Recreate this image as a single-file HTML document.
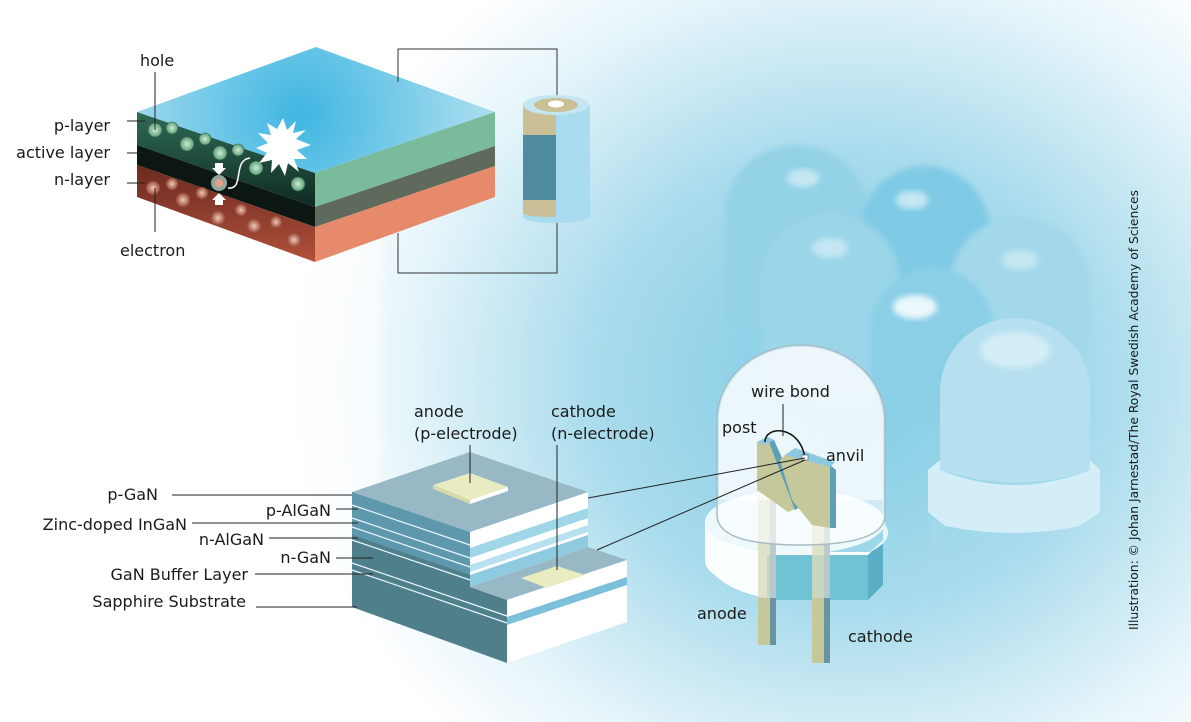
<!DOCTYPE html>
<html><head><meta charset="utf-8"><style>
html,body{margin:0;padding:0;background:#fff}
svg{display:block}
text{font-family:"DejaVu Sans","Liberation Sans",sans-serif;font-size:16px;fill:#1a1a1a}
</style></head><body>
<svg width="1191" height="722" viewBox="0 0 1191 722" xmlns="http://www.w3.org/2000/svg">
<defs>
<radialGradient id="bg" cx="850" cy="380" r="560" gradientUnits="userSpaceOnUse" gradientTransform="translate(850 380) scale(1 0.9) translate(-850 -380)">
<stop offset="0" stop-color="#7fcbe4"/><stop offset="0.45" stop-color="#a8dbec"/><stop offset="0.8" stop-color="#e6f5fa"/><stop offset="1" stop-color="#ffffff"/></radialGradient>
<radialGradient id="topf" cx="300" cy="115" r="180" gradientUnits="userSpaceOnUse"><stop offset="0" stop-color="#3fb6e2"/><stop offset="1" stop-color="#a6dcee"/></radialGradient>
<linearGradient id="pl" x1="0" y1="0" x2="0" y2="1"><stop offset="0" stop-color="#2f6b56"/><stop offset="1" stop-color="#0f2a22"/></linearGradient>
<linearGradient id="nl" x1="0" y1="0" x2="0" y2="1"><stop offset="0" stop-color="#6b2a20"/><stop offset="1" stop-color="#b0503a"/></linearGradient>
<radialGradient id="hole"><stop offset="0" stop-color="#cdeecf"/><stop offset="1" stop-color="#5f9f7c"/></radialGradient>
<radialGradient id="el"><stop offset="0" stop-color="#f0c8b8"/><stop offset="1" stop-color="#9a4a3a"/></radialGradient>
<filter id="bl" x="-20%" y="-20%" width="140%" height="140%"><feGaussianBlur stdDeviation="6"/></filter>
<filter id="bl3" x="-20%" y="-20%" width="140%" height="140%"><feGaussianBlur stdDeviation="3"/></filter>
<filter id="bl2"><feGaussianBlur stdDeviation="3"/></filter>
</defs>
<rect width="1191" height="722" fill="url(#bg)"/>
<rect x="0" y="0" width="380" height="722" fill="#fff" opacity="0.6" filter="url(#bl)"/>

<g filter="url(#bl3)">
<path d="M725 330 V215 A72 70 0 0 1 869 215 V330Z" fill="#94d2e8"/>
<path d="M860 340 V232 A65 66 0 0 1 990 232 V340Z" fill="#7fcae5"/>
<path d="M950 350 V285 A70 68 0 0 1 1090 285 V350Z" fill="#a3d8eb"/>
<path d="M760 400 V283 A70 70 0 0 1 900 283 V400Z" fill="#9ad5ea"/>
<path d="M870 420 V330 A62 62 0 0 1 994 330 V420Z" fill="#8bcfe7"/>
</g>
<ellipse cx="803" cy="178" rx="16" ry="9" fill="#c5e7f3" filter="url(#bl2)"/>
<ellipse cx="912" cy="200" rx="16" ry="9" fill="#c5e7f3" filter="url(#bl2)"/>
<ellipse cx="830" cy="248" rx="18" ry="10" fill="#c5e7f3" filter="url(#bl2)"/>
<ellipse cx="1020" cy="260" rx="18" ry="10" fill="#c5e7f3" filter="url(#bl2)"/>
<ellipse cx="915" cy="307" rx="22" ry="12" fill="#eaf7fb" filter="url(#bl2)"/>
<rect x="930" y="520" width="14" height="62" fill="#a5d8eb" opacity="0.8"/>
<path d="M928 470 L940 460 V470 Q1015 500 1090 470 V460 L1100 470 V512 L1080 526 Q1015 540 945 526 L928 512Z" fill="#d4eef7"/>
<path d="M940 470 V392 A75 74 0 0 1 1090 392 V470 Q1015 495 940 470Z" fill="#b6e0ef"/>
<ellipse cx="1015" cy="350" rx="35" ry="18" fill="#d4eef7" filter="url(#bl2)"/>

<polygon points="137,112 316,47 495,112 315,173" fill="url(#topf)"/>
<polygon points="137,112 315,173 315,207 137,145" fill="url(#pl)"/>
<polygon points="137,145 315,207 315,227 137,165" fill="#0c1612"/>
<polygon points="137,165 315,227 315,262 137,197" fill="url(#nl)"/>
<polygon points="315,173 495,112 495,146 315,207" fill="#79bb9b"/>
<polygon points="315,207 495,146 495,166 315,227" fill="#5f6a5c"/>
<polygon points="315,227 495,166 495,197 315,262" fill="#e78a6c"/>
<g fill="url(#hole)" stroke="#2d5a44" stroke-width="0.6">
<circle cx="155" cy="130" r="7"/><circle cx="172" cy="128" r="6"/><circle cx="187" cy="144" r="7"/><circle cx="205" cy="139" r="6"/><circle cx="220" cy="153" r="7"/><circle cx="238" cy="150" r="6"/><circle cx="256" cy="168" r="7"/><circle cx="298" cy="184" r="7"/>
</g>
<g fill="url(#el)">
<circle cx="153" cy="188" r="7"/><circle cx="172" cy="184" r="6"/><circle cx="183" cy="200" r="7"/><circle cx="202" cy="193" r="6"/><circle cx="218" cy="218" r="7"/><circle cx="241" cy="210" r="6"/><circle cx="254" cy="226" r="7"/><circle cx="276" cy="222" r="6"/><circle cx="294" cy="240" r="7"/>
</g>
<circle cx="219" cy="183" r="8" fill="#8fa89a"/><circle cx="219" cy="183" r="4" fill="#e9a08a"/>
<path d="M215 163 h8 v5 h3 l-7 7 -7 -7 h3z" fill="#fff"/>
<path d="M215 205 h8 v-5 h3 l-7 -7 -7 7 h3z" fill="#fff"/>
<path d="M228 188 C245 190 232 160 250 158" stroke="#fff" stroke-width="1.5" fill="none"/>
<polygon points="283,118 287,130 296,121 293,133 306,130 296,139 311,145 297,150 307,159 294,159 299,172 288,163 285,176 279,164 271,173 272,160 259,163 267,153 256,148 268,143 258,133 271,135 267,123 277,129" fill="#fff"/>
<text x="140" y="66">hole</text>
<line x1="155" y1="72" x2="155" y2="130" stroke="#222"/>
<text x="110" y="131" text-anchor="end">p-layer</text>
<text x="110" y="158" text-anchor="end">active layer</text>
<text x="110" y="185" text-anchor="end">n-layer</text>
<line x1="127" y1="121" x2="145" y2="121" stroke="#222"/>
<line x1="127" y1="153" x2="145" y2="153" stroke="#222"/>
<line x1="127" y1="183" x2="145" y2="183" stroke="#222"/>
<line x1="155" y1="188" x2="155" y2="232" stroke="#222"/>
<text x="120" y="256">electron</text>
<polyline points="398,82 398,49 557,49 557,103" fill="none" stroke="#333"/>
<polyline points="398,233 398,273 557,273 557,222" fill="none" stroke="#333"/>
<rect x="523" y="105" width="67" height="112" fill="#a9dcee"/>
<ellipse cx="556" cy="217" rx="33" ry="6" fill="#a9dcee"/>
<path d="M523 105 H556 V135 H523Z" fill="#cbbf97"/>
<path d="M523 135 H556 V200 H523Z" fill="#4e8aa0"/>
<path d="M523 200 H556 V217 A33 6 0 0 1 523 214Z" fill="#cbbf97"/>
<ellipse cx="556" cy="105" rx="33" ry="10" fill="#c4e6f2"/>
<ellipse cx="556" cy="105" rx="22" ry="7" fill="#cbbf97"/>
<ellipse cx="556" cy="104" rx="8" ry="3.5" fill="#fff"/>

<polygon points="352,492 470,532 470,587 507,600 507,663 352,607" fill="#4f7f8b"/>
<polygon points="352,492 470,532 470,575 352,535" fill="#5e98ad"/>
<g stroke="#e8f6fa" stroke-width="1.2" fill="none">
<line x1="352" y1="505" x2="470" y2="545"/><line x1="352" y1="518" x2="470" y2="558"/><line x1="352" y1="527" x2="470" y2="567"/><line x1="352" y1="540" x2="470" y2="580"/>
<line x1="352" y1="563" x2="507" y2="616"/><line x1="352" y1="570" x2="507" y2="623"/>
</g>
<polygon points="470,532 588,492 588,547 470,587" fill="#fff"/>
<polygon points="470,548 588,508 588,518 470,558" fill="#9fd6e8"/>
<polygon points="470,565 588,525 588,532 470,572" fill="#b7e1ee"/>
<polygon points="470,575 588,535 588,547 470,587" fill="#8ecbe0"/>
<polygon points="352,492 470,452 588,492 470,532" fill="#98b8c5"/>
<polygon points="470,587 588,547 627,560 507,600" fill="#98b8c5"/>
<polygon points="507,600 627,560 627,622 507,663" fill="#fff"/>
<polygon points="507,617 627,577 627,585 507,625" fill="#7cc0dc"/>
<polygon points="433,485 470,473 508,487 470,500" fill="#e8ecc0"/>
<polygon points="433,485 470,500 470,504 433,489" fill="#d6d9a8"/>
<polygon points="470,500 508,487 508,491 470,504" fill="#fff"/>
<polygon points="521,578 557,566 585,575 547,588" fill="#e8ecc0"/>
<polygon points="547,588 585,575 585,579 547,592" fill="#fff"/>
<text x="414" y="417">anode</text><text x="414" y="439">(p-electrode)</text>
<text x="551" y="417">cathode</text><text x="551" y="439">(n-electrode)</text>
<line x1="470" y1="445" x2="470" y2="483" stroke="#222"/>
<line x1="557" y1="445" x2="557" y2="570" stroke="#222"/>
<g stroke="#222">
<line x1="172" y1="495" x2="352" y2="495"/>
<line x1="336" y1="509" x2="358" y2="509"/>
<line x1="192" y1="523" x2="358" y2="523"/>
<line x1="269" y1="538" x2="358" y2="538"/>
<line x1="336" y1="558" x2="373" y2="558"/>
<line x1="255" y1="574" x2="373" y2="574"/>
<line x1="256" y1="607" x2="357" y2="607"/>
</g>
<text x="158" y="500" text-anchor="end">p-GaN</text>
<text x="331" y="516" text-anchor="end">p-AlGaN</text>
<text x="187" y="530" text-anchor="end">Zinc-doped InGaN</text>
<text x="264" y="545" text-anchor="end">n-AlGaN</text>
<text x="331" y="563" text-anchor="end">n-GaN</text>
<text x="248" y="580" text-anchor="end">GaN Buffer Layer</text>
<text x="246" y="607" text-anchor="end">Sapphire Substrate</text>

<path d="M705 522 V560 A90 32 0 0 0 767 591 V600 H868 L883 585 V540 L870 552 H767 A90 32 0 0 1 705 522Z" fill="#fff"/>
<path d="M705 522 V562 Q720 590 767 598 V555 Q712 545 705 522Z" fill="#fbfeff"/>
<path d="M767 555 H868 V600 H767Z" fill="#72c2d6"/>
<path d="M868 555 L883 540 V585 L868 600Z" fill="#5aaec6"/>
<ellipse cx="795" cy="522" rx="90" ry="32" fill="#eef9fc"/>
<path d="M870 552 L883 540 V522 A90 32 0 0 1 870 552Z" fill="#e4f4f9"/>
<rect x="758" y="598" width="12" height="47" fill="#c5c89a"/><rect x="770" y="598" width="6" height="47" fill="#6a94a2"/>
<rect x="812" y="598" width="12" height="65" fill="#c5c89a"/><rect x="824" y="598" width="6" height="65" fill="#6a94a2"/>
<rect x="758" y="480" width="18" height="118" fill="#d9dcbc" opacity="0.8"/><rect x="770" y="480" width="6" height="118" fill="#b3c6cc" opacity="0.8"/>
<rect x="812" y="500" width="18" height="98" fill="#d9dcbc" opacity="0.8"/><rect x="824" y="500" width="6" height="98" fill="#b3c6cc" opacity="0.8"/>
<path d="M717 515 V420 A84 75 0 0 1 885 420 V515 Q885 545 800 545 Q717 545 717 515Z" fill="#fff" fill-opacity="0.55" stroke="#a8bcc4" stroke-width="1.5"/>
<path d="M719 420 A82 73 0 0 1 883 420 V500 H719Z" fill="#fff" opacity="0.6"/>
<polygon points="757,442 767,437 798,500 798,508 788,512 757,490" fill="#c5c89a"/>
<polygon points="767,437 774,440 803,505 795,510" fill="#5f9fb8"/>
<polygon points="757,442 767,437 774,440 765,445" fill="#8cc8e0"/>
<polygon points="785,455 830,465 830,528 812,525 792,500 780,460" fill="#c5c89a"/>
<polygon points="830,465 836,470 836,528 830,528" fill="#5f9fb8"/>
<polygon points="785,455 795,448 835,462 830,467" fill="#8cc8e0"/>
<path d="M765 442 C765 425 800 425 805 458" stroke="#111" stroke-width="1.5" fill="none"/>
<rect x="802" y="455" width="6" height="5" fill="#fff" stroke="#555" stroke-width="0.6"/>
<line x1="588" y1="498" x2="805" y2="458" stroke="#222"/>
<line x1="597" y1="550" x2="805" y2="460" stroke="#222"/>
<line x1="783" y1="404" x2="783" y2="436" stroke="#222"/>
<text x="751" y="397">wire bond</text>
<text x="722" y="433">post</text>
<text x="826" y="461">anvil</text>
<text x="697" y="619">anode</text>
<text x="848" y="642">cathode</text>

<text transform="translate(1138 630) rotate(-90)" style="font-size:12.5px" textLength="440" lengthAdjust="spacingAndGlyphs">Illustration: © Johan Jarnestad/The Royal Swedish Academy of Sciences</text>
</svg>
</body></html>
